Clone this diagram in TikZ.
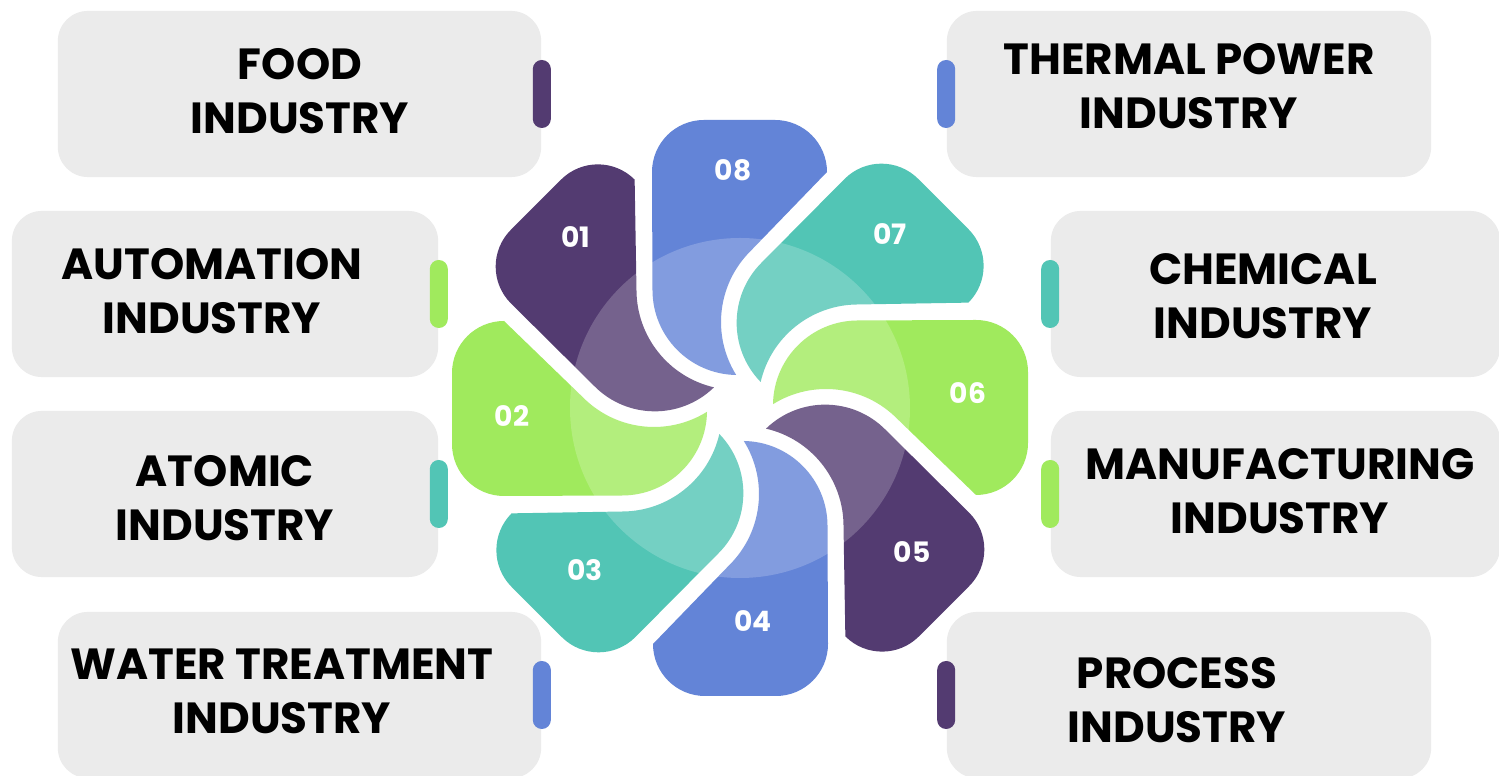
\documentclass[tikz,border=0pt]{standalone}
\usepackage{fontspec}
\setmainfont{Poppins}
\usepackage{tikz}

\definecolor{purp}{HTML}{533B71}
\definecolor{blu}{HTML}{6384D7}
\definecolor{tealc}{HTML}{52C5B5}
\definecolor{grn}{HTML}{A0EA5D}
\definecolor{boxgray}{HTML}{EBEBEB}

\begin{document}
\begin{tikzpicture}[x=0.01cm, y=0.01cm,
	box/.style={fill=boxgray, rounded corners=0.3cm, inner sep=0pt},
	bar/.style={rounded corners=0.09cm, minimum width=0.18cm, minimum height=0.68cm, inner sep=0pt},
	lbl/.style={align=center, font=\bfseries\fontsize{12.4}{15.4}\selectfont},
	num/.style={text=white, font=\bfseries\fontsize{8}{9}\selectfont}]
	\useasboundingbox (0,0) rectangle (1499,776);
	\fill[white] (0,0) rectangle (1499,776);

	% boxes
	\node[box, minimum width=4.83cm, minimum height=1.66cm] (food) at (299.5,682) {};
	\node[box, minimum width=4.26cm, minimum height=1.66cm] (auto) at (225,482) {};
	\node[box, minimum width=4.26cm, minimum height=1.66cm] (atom) at (225,282) {};
	\node[box, minimum width=4.83cm, minimum height=1.66cm] (water) at (299.5,81) {};
	\node[box, minimum width=4.84cm, minimum height=1.66cm] (therm) at (1189,682) {};
	\node[box, minimum width=4.49cm, minimum height=1.66cm] (chem) at (1275.5,482) {};
	\node[box, minimum width=4.49cm, minimum height=1.66cm] (manu) at (1275.5,282) {};
	\node[box, minimum width=4.84cm, minimum height=1.66cm] (proc) at (1189,81) {};

	% bars
	\node[bar, fill=purp] (foodbar) at (food.east) {};
	\node[bar, fill=grn] (autobar) at (auto.east) {};
	\node[bar, fill=tealc] (atombar) at (atom.east) {};
	\node[bar, fill=blu] (waterbar) at (water.east) {};
	\node[bar, fill=blu] (thermbar) at (therm.west) {};
	\node[bar, fill=tealc] (chembar) at (chem.west) {};
	\node[bar, fill=grn] (manubar) at (manu.west) {};
	\node[bar, fill=purp] (procbar) at (proc.west) {};

	% label
	\node[lbl] (foodtxt) at (300,685) {FOOD\\INDUSTRY};
	\node[lbl] (autotxt) at (212,485) {AUTOMATION\\INDUSTRY};
	\node[lbl] (atomtxt) at (225,278) {ATOMIC\\INDUSTRY};
	\node[lbl] (watertxt) at (282,85) {WATER TREATMENT\\INDUSTRY};
	\node[lbl] (thermtxt) at (1189,690) {THERMAL POWER\\INDUSTRY};
	\node[lbl] (chemtxt) at (1263,480) {CHEMICAL\\INDUSTRY};
	\node[lbl] (manutxt) at (1280,285) {MANUFACTURING\\INDUSTRY};
	\node[lbl] (proctxt) at (1177,76) {PROCESS\\INDUSTRY};

	% petals
	\foreach \n/\c in {1/purp,2/grn,3/tealc,4/blu,5/purp,6/grn,7/tealc,8/blu}
		\fill[\c, shift={(740,368)}, rotate=45*\n] (-4,33) arc[start angle=269, end angle=180, radius=85]
			-- (-88,236) arc[start angle=180, end angle=90, radius=52]
			-- (35,288) arc[start angle=90, end angle=0, radius=52]
			-- (10.3,156.7) arc[start angle=135, end angle=212, radius=100] -- cycle;
	\fill[white, opacity=0.2] (740,368) circle[radius=170];

	% numbers
	\foreach \n/\x/\y in {01/576/539,02/512/360,03/585/206,04/753/155,05/912/224,06/968/383,07/890/542,08/733/606}
		\node[num] (n\n) at (\x,\y) {\n};
\end{tikzpicture}
\end{document}
